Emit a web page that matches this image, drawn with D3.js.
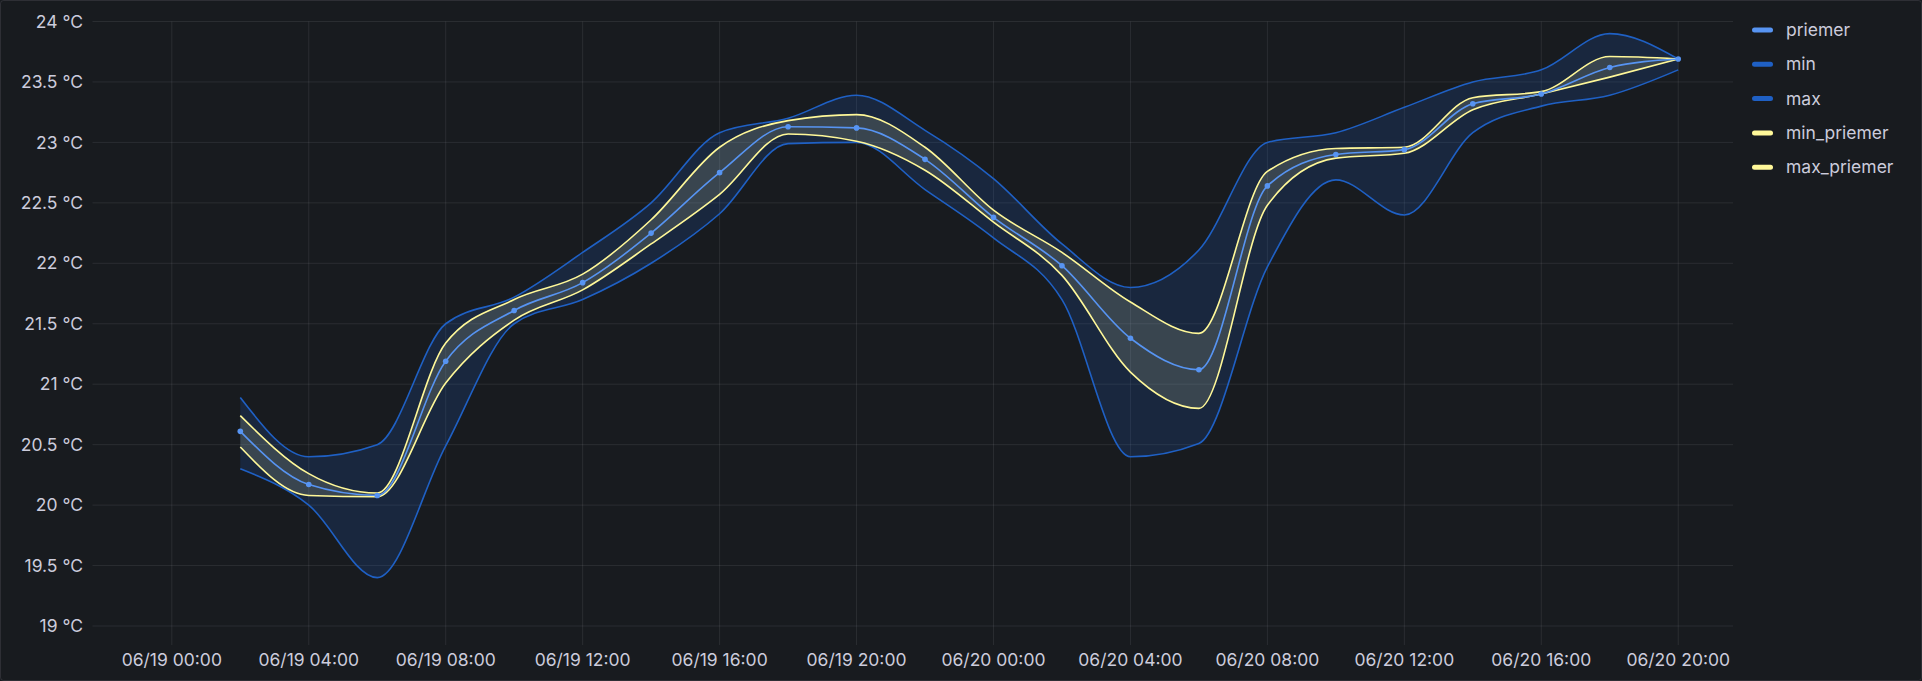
<!DOCTYPE html>
<html lang="en">
<head>
<meta charset="utf-8">
<title>Teplota</title>
<script src="https://cdn.jsdelivr.net/npm/d3@7"></script>
<style>
  html, body { margin: 0; padding: 0; background: #181b1f; }
  svg text { font-family: Inter, "Noto Sans", sans-serif; }
</style>
</head>
<body>
<div id="chart"></div>
<script>

// time stamps (every 2 hours)
var times = ['06/19 02:00','06/19 04:00','06/19 06:00','06/19 08:00','06/19 10:00','06/19 12:00',
             '06/19 14:00','06/19 16:00','06/19 18:00','06/19 20:00','06/19 22:00','06/20 00:00',
             '06/20 02:00','06/20 04:00','06/20 06:00','06/20 08:00','06/20 10:00','06/20 12:00',
             '06/20 14:00','06/20 16:00','06/20 18:00','06/20 20:00'];

var priemer    = [20.61,20.17,20.08,21.19,21.61,21.84,22.25,22.75,23.13,23.12,22.86,22.38,21.98,21.38,21.12,22.64,22.90,22.94,23.32,23.40,23.62,23.69];
var minVals    = [20.30,20.00,19.40,20.49,21.50,21.70,22.00,22.41,22.99,23.00,22.61,22.21,21.70,20.40,20.51,21.97,22.69,22.40,23.08,23.30,23.39,23.60];
var maxVals    = [20.89,20.40,20.50,21.50,21.72,22.09,22.50,23.08,23.20,23.39,23.10,22.70,22.16,21.80,22.11,23.00,23.08,23.29,23.50,23.60,23.90,23.69];
var minPriemer = [20.48,20.08,20.07,21.01,21.53,21.78,22.16,22.57,23.07,23.01,22.77,22.34,21.90,21.10,20.80,22.48,22.87,22.91,23.27,23.40,23.54,23.69];
var maxPriemer = [20.74,20.26,20.10,21.34,21.70,21.91,22.36,22.96,23.18,23.23,22.96,22.44,22.09,21.68,21.42,22.76,22.95,22.96,23.37,23.42,23.71,23.69];

var timeRange = ['06/18 21:41', '06/20 21:36'];
var yTicks = [19, 19.5, 20, 20.5, 21, 21.5, 22, 22.5, 23, 23.5, 24];

var legendNames = ['priemer', 'min', 'max', 'min_priemer', 'max_priemer'];
var legendColors = ['#5794F2', '#1F60C4', '#1F60C4', '#FFF899', '#FFF899'];

var width = 1922, height = 681;
var parse = d3.timeParse('%m/%d %H:%M');
var fmt = d3.timeFormat('%m/%d %H:%M');

var rows = times.map(function(t, i) {
    return { t: parse(t), p: priemer[i], mn: minVals[i], mx: maxVals[i], mnp: minPriemer[i], mxp: maxPriemer[i] };
});

var plotLeft = 92.5, plotRight = 1733, plotTop = 21.5, plotBottom = 645;

var x = d3.scaleTime().domain(timeRange.map(parse)).range([plotLeft, plotRight]);
var y = d3.scaleLinear().domain([19, 24]).range([626, plotTop]);

var svg = d3.select('#chart').append('svg').attr('width', width).attr('height', height);

svg.append('rect')
    .attr('x', 0.5).attr('y', 0.5).attr('width', width - 1).attr('height', height - 1)
    .attr('rx', 3).attr('fill', '#181b1f').attr('stroke', 'rgba(204,204,220,0.12)');

var gridColor = 'rgba(204,204,220,0.10)';

// horizontal grid + y labels
svg.append('g').selectAll('line').data(yTicks).enter().append('line')
    .attr('x1', plotLeft).attr('x2', plotRight)
    .attr('y1', function(d) { return y(d); }).attr('y2', function(d) { return y(d); })
    .attr('stroke', gridColor);

svg.append('g').selectAll('text').data(yTicks).enter().append('text')
    .attr('x', 83).attr('y', function(d) { return y(d); })
    .attr('dy', '0.35em').attr('text-anchor', 'end')
    .attr('fill', '#ccccdc').style('font-size', '17.5px')
    .text(function(d) { return d + ' °C'; });

// vertical grid + x labels
var xTicks = x.ticks(d3.timeHour.every(4));
svg.append('g').selectAll('line').data(xTicks).enter().append('line')
    .attr('x1', function(d) { return x(d); }).attr('x2', function(d) { return x(d); })
    .attr('y1', plotTop).attr('y2', plotBottom)
    .attr('stroke', gridColor);

svg.append('g').selectAll('text').data(xTicks).enter().append('text')
    .attr('x', function(d) { return x(d); }).attr('y', 660)
    .attr('dy', '0.35em').attr('text-anchor', 'middle')
    .attr('fill', '#ccccdc').style('font-size', '17.5px')
    .text(function(d) { return fmt(d); });

var curve = d3.curveMonotoneX;

// min..max band
svg.append('path').datum(rows)
    .attr('d', d3.area().curve(curve).x(function(d) { return x(d.t); })
        .y0(function(d) { return y(d.mn); }).y1(function(d) { return y(d.mx); }))
    .attr('fill', '#1F60C4').attr('fill-opacity', 0.19);

// min_priemer..max_priemer band
svg.append('path').datum(rows)
    .attr('d', d3.area().curve(curve).x(function(d) { return x(d.t); })
        .y0(function(d) { return y(d.mnp); }).y1(function(d) { return y(d.mxp); }))
    .attr('fill', '#F4F2B8').attr('fill-opacity', 0.15);

function drawLine(key, color) {
    svg.append('path').datum(rows)
        .attr('d', d3.line().curve(curve).x(function(d) { return x(d.t); }).y(function(d) { return y(d[key]); }))
        .attr('fill', 'none').attr('stroke', color).attr('stroke-width', 1.6);
}

drawLine('mn', '#1F60C4');
drawLine('mx', '#1F60C4');
drawLine('mnp', '#FFF899');
drawLine('mxp', '#FFF899');
drawLine('p', '#5794F2');

svg.append('g').selectAll('circle').data(rows).enter().append('circle')
    .attr('cx', function(d) { return x(d.t); }).attr('cy', function(d) { return y(d.p); })
    .attr('r', 2.8).attr('fill', '#5794F2');

// legend
var legend = svg.append('g').selectAll('g').data(legendNames).enter().append('g')
    .attr('transform', function(d, i) { return 'translate(1752,' + (30 + i * 34.3) + ')'; });

legend.append('rect')
    .attr('x', 0).attr('y', -2.5).attr('width', 21).attr('height', 5).attr('rx', 2.5)
    .attr('fill', function(d, i) { return legendColors[i]; });

legend.append('text')
    .attr('x', 34).attr('y', 0).attr('dy', '0.35em')
    .attr('fill', '#ccccdc').style('font-size', '17.5px')
    .text(function(d) { return d; });

</script>
</body>
</html>
